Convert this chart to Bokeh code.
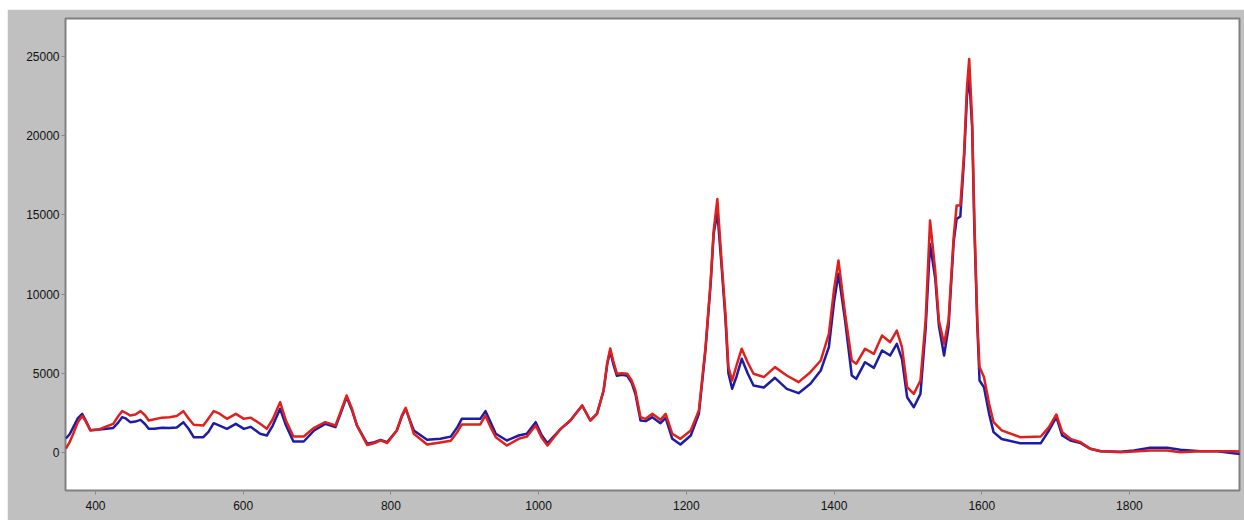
from bokeh.plotting import figure
from bokeh.models import Range1d, FixedTicker, Spacer
from bokeh.layouts import column, row
from bokeh.embed import file_html
from bokeh.resources import INLINE

wavenumber = [360, 365, 370, 376, 382, 387, 393, 405, 415, 424, 431, 436, 441, 447, 454, 461, 467, 472,
              480, 490, 500, 510, 519, 526, 533, 546, 553, 560, 568, 578, 590, 601, 610, 623, 632, 640,
              650, 658, 668, 682, 696, 711, 725, 733, 740, 747, 754, 768, 778, 786, 795, 808, 815, 820,
              826, 831, 849, 867, 881, 890, 896, 921, 928, 935, 942, 957, 973, 984, 996, 1004, 1012,
              1030, 1043, 1059, 1070, 1079, 1088, 1093, 1097, 1101, 1106, 1113, 1120, 1126, 1131, 1138,
              1145, 1154, 1165, 1172, 1181, 1192, 1206, 1217, 1226, 1233, 1237, 1242, 1248, 1253, 1257,
              1262, 1268, 1275, 1283, 1291, 1305, 1320, 1336, 1352, 1368, 1382, 1393, 1400, 1406, 1415,
              1424, 1430, 1442, 1454, 1465, 1476, 1485, 1492, 1499, 1508, 1517, 1524, 1530, 1537, 1542,
              1549, 1555, 1562, 1566, 1571, 1576, 1580, 1583, 1587, 1590, 1594, 1597, 1603, 1610, 1616,
              1627, 1652, 1680, 1691, 1701, 1709, 1720, 1734, 1747, 1761, 1788, 1806, 1828, 1851, 1869,
              1896, 1919, 1941, 1950]

blue_series = [880, 1150, 1600, 2150, 2440, 2000, 1400, 1450, 1500, 1550, 1900, 2230, 2150, 1915, 1950, 2060, 1800, 1494,
               1500, 1560, 1540, 1580, 1915, 1500, 966, 966, 1300, 1850, 1700, 1494, 1810, 1494, 1620, 1180, 1073, 1700,
               2756, 1700, 694, 694, 1389, 1810, 1600, 2600, 3500, 2700, 1705, 547, 650, 800, 652, 1389, 2300, 2756,
               2000, 1389, 800, 863, 1000, 1600, 2125, 2125, 2610, 1900, 1180, 757, 1073, 1180, 1915, 1100, 589,
               1494, 2020, 2967, 2020, 2440, 3914, 5600, 6400, 5600, 4840, 4900, 4840, 4400, 3700, 2020,
               1980, 2230, 1850, 2180, 866, 505, 1073, 2440, 6500, 10700, 13800, 15170, 11600, 8400, 5000,
               4020, 4800, 5915, 5000, 4230, 4100, 4715, 4020, 3745, 4335, 5177, 6650, 9500, 11280, 8330,
               4860, 4650, 5700, 5345, 6440, 6124, 6860, 5900, 3490, 2860, 3700, 7800, 13170, 11000, 8000,
               6124, 7900, 13300, 14750, 14900, 18500, 22500, 23700, 20500, 14200, 8000, 4545, 4120, 2440, 1284,
               850, 589, 589, 1390, 2230, 1073, 757, 589, 231, 84, 40, 126, 295, 295, 168,
               84, 84, -42, -100]

red_series = [250, 650, 1200, 1900, 2300, 1950, 1400, 1450, 1650, 1810, 2300, 2610, 2500, 2336, 2400, 2610, 2350, 2020,
              2100, 2200, 2230, 2300, 2610, 2150, 1750, 1705, 2150, 2610, 2450, 2125, 2440, 2125, 2200, 1810, 1494, 2100,
              3175, 2000, 1010, 1010, 1557, 1915, 1705, 2700, 3600, 2800, 1705, 470, 600, 760, 600, 1389, 2350, 2820,
              1950, 1180, 505, 631, 740, 1300, 1768, 1768, 2336, 1600, 966, 442, 863, 1000, 1705, 950, 442,
              1494, 2020, 2967, 2020, 2440, 3914, 5700, 6560, 5800, 4970, 5000, 4970, 4545, 3914, 2230,
              2125, 2440, 2060, 2440, 1180, 863, 1389, 2651, 6650, 10860, 14000, 16000, 11900, 8750, 5390,
              4545, 5500, 6550, 5700, 4970, 4760, 5390, 4860, 4440, 5070, 5808, 7490, 10300, 12120, 8750,
              5808, 5600, 6550, 6230, 7385, 6965, 7700, 6650, 4120, 3700, 4545, 8330, 14650, 11490, 8330,
              6860, 8330, 13600, 15590, 15600, 18860, 23060, 24850, 20960, 14650, 8330, 5390, 4760, 3070, 1915,
              1400, 966, 1010, 1600, 2400, 1284, 863, 652, 231, 84, 21, 63, 126, 126, 21,
              84, 84, 84, 60]

x_ticks = [400, 600, 800, 1000, 1200, 1400, 1600, 1800]
y_ticks = [0, 5000, 10000, 15000, 20000, 25000]

p = figure(width=1237, height=511, output_backend="svg", toolbar_location=None,
           x_range=Range1d(359.4, 1949), y_range=Range1d(-2400, 27400),
           min_border_left=58, min_border_right=5, min_border_top=9, min_border_bottom=30)

p.background_fill_color = "white"
p.border_fill_color = "#c0c0c0"
p.outline_line_color = "#808080"
p.outline_line_width = 2
p.xgrid.visible = False
p.ygrid.visible = False

p.line(wavenumber, blue_series, line_color="#1c1ca6", line_width=2.5, line_join="round")
p.line(wavenumber, red_series, line_color="#e0201c", line_width=2.5, line_join="round")

for ax in (p.xaxis[0], p.yaxis[0]):
    ax.axis_line_color = None
    ax.minor_tick_line_color = None
    ax.major_tick_line_color = "#8a8a8a"
    ax.major_tick_in = 0
    ax.major_tick_out = 4
    ax.major_label_text_font = "Liberation Sans"
    ax.major_label_text_font_size = "12px"
    ax.major_label_text_color = "#111111"

p.xaxis[0].ticker = FixedTicker(ticks=x_ticks)
p.yaxis[0].ticker = FixedTicker(ticks=y_ticks)
p.xaxis[0].major_label_standoff = 6
p.yaxis[0].major_label_standoff = 2

layout = column(Spacer(width=1237, height=9), row(Spacer(width=7, height=511), p))

open("out.html", "w").write(file_html(layout, INLINE))
